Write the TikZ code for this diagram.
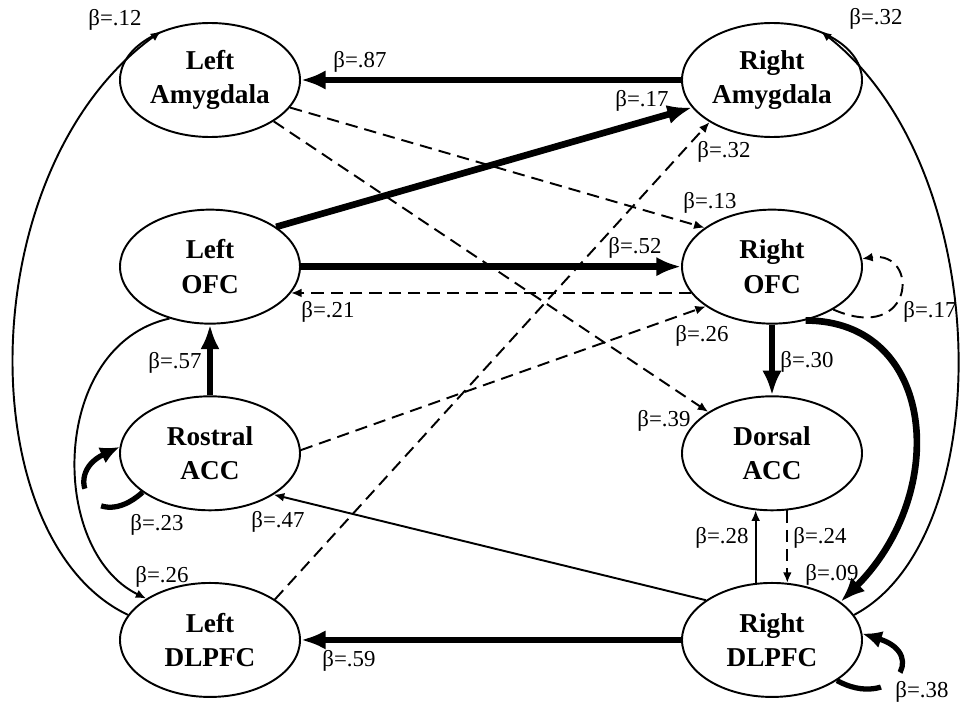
\documentclass[tikz,border=0pt]{standalone}
\usepackage{fontspec}
\setmainfont{Liberation Serif}
\usepackage{tikz}
\usetikzlibrary{shapes.geometric,arrows.meta}

\begin{document}
\begin{tikzpicture}[region/.style={ellipse,draw,line width=1.1pt,fill=white,minimum width=3.6cm,minimum height=2.28cm,inner sep=0pt,align=center,font=\fontsize{15.5}{19.5}\selectfont\bfseries},
    coef/.style={inner sep=0pt,font=\fontsize{13}{15}\selectfont},
    strong/.style={line width=3.8pt,-{Latex[length=14pt,width=11pt]}},
    loopy/.style={line width=3pt,dash pattern=on 26pt off 14pt on 80pt,-{Latex[length=11pt,width=10pt]}},
    weak/.style={line width=1.1pt,-{Latex[length=6pt,width=5pt]}},
    dashlink/.style={line width=1.1pt,dash pattern=on 7pt off 4pt,-{Latex[length=6pt,width=5pt]}}]
    \useasboundingbox (0,0) rectangle (19.22,-14.06);
    % regions, two columns
    \foreach \nm/\lab/\c/\r in {%
      LA/Left\\Amygdala/0/0, RA/Right\\Amygdala/1/0,
      LO/Left\\OFC/0/1, RO/Right\\OFC/1/1,
      RACC/Rostral\\ACC/0/2, DACC/Dorsal\\ACC/1/2,
      LD/Left\\DLPFC/0/3, RD/Right\\DLPFC/1/3%
    } {
      \node[region] (\nm) at ({4.2+\c*11.24},{-1.6-\r*3.733}) {\lab};
    }
    % straight paths
    \draw[strong] (RA) -- (LA);
    \draw[strong] (LO.31) -- (RA.199);
    \draw[strong] (LO) -- (RO);
    \draw[strong] (RACC) -- (LO);
    \draw[strong] (RO) -- (DACC);
    \draw[strong] (RD) -- (LD);
    \draw[dashlink] (RO.198) -- (LO.342);
    \draw[dashlink] (LA.-19) -- (RO.150);
    \draw[dashlink] (LA.-33) -- (DACC.147);
    \draw[dashlink] (LD.32) -- (RA.214);
    \draw[dashlink] (RACC.2) -- (RO.211);
    \draw[dashlink] (DACC.-75) -- (RD.75);
    \draw[weak] (RD.149) -- (RACC.-33);
    \draw[weak] (RD.106) -- (DACC.254);
    % curved paths
    \draw[strong] (RO.-58) .. controls +(2.6,0) and +(2.2,2.2) .. (RD.29);
    \draw[weak] (LD.163) .. controls (-0.6,-10.8) and (-0.6,-3.4) .. (LA.135);
    \draw[weak] (RD.17) .. controls (19.95,-10.8) and (19.95,-3.4) .. (RA.45);
    \draw[weak] (LO.232) .. controls (1.0,-6.9) and (0.95,-11.0) .. (LD.147);
    % self loops
    \draw[dashlink] (RO.-35) .. controls (18.3,-6.9) and (18.4,-5.0) .. (RO.5);
    \draw[loopy] (RACC.210) .. controls (1.9,-10.7) and (1.2,-9.5) .. (RACC.176);
    \draw[loopy] (RD.-32) .. controls (17.8,-14.2) and (18.6,-13.1) .. (RD.4);
    % coefficients
    \foreach \nm/\val/\x/\y in {%
      b12/.12/2.3/-0.4, b87/.87/7.2/-1.24, b32t/.32/17.52/-0.38,
      b17a/.17/12.84/-2.02, b32b/.32/14.48/-3.04, b13/.13/14.2/-4.06,
      b52/.52/12.7/-4.96, b21/.21/6.56/-6.24, b26a/.26/14.04/-6.72,
      b30/.30/16.14/-7.24, b39/.39/13.28/-8.42, b57/.57/3.5/-7.26,
      b23/.23/3.14/-10.5, b47/.47/5.56/-10.44, b26b/.26/3.24/-11.54,
      b59/.59/6.98/-13.22, b28/.28/14.44/-10.76, b24/.24/16.4/-10.76,
      b09/.09/16.64/-11.5, b17b/.17/18.6/-6.24, b38/.38/18.44/-13.84%
    } {
      \node[coef] (\nm) at (\x,\y) {β=\val};
    }
\end{tikzpicture}
\end{document}
